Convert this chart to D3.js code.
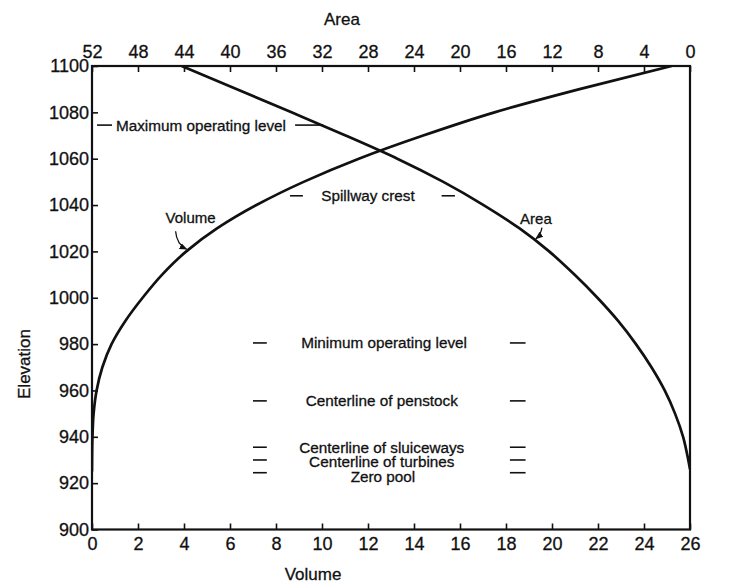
<!DOCTYPE html>
<html><head><meta charset="utf-8">
<script src="https://cdn.jsdelivr.net/npm/d3@7"></script>
<style>
body{margin:0;background:#fff}
text{font-family:"Liberation Sans",Arial,sans-serif;fill:#111;stroke:#111;stroke-width:0.3px}
</style>
</head><body>
<svg id="chart" width="735" height="584"></svg>
<script>
// ---- data ----
const elevTicks = [900,920,940,960,980,1000,1020,1040,1060,1080,1100];
const volumeTicks = [0,2,4,6,8,10,12,14,16,18,20,22,24,26];
const areaTicks = [52,48,44,40,36,32,28,24,20,16,12,8,4,0];

const volumeElev = [1100,1090,1080,1070,1060,1050,1040,1030,1020,1010,1000,990,980,970,960,950,940,930,925];
const volumeVals = [25.2,21.2,17.5,14.4,11.6,9.2,7.15,5.45,4.1,3.05,2.2,1.45,0.85,0.45,0.2,0.07,0.02,0.003,0];

const areaElev = [1100,1090,1080,1070,1060,1050,1040,1030,1020,1010,1000,990,980,970,960,950,940,930,926];
const areaVals = [44.2,39.4,34.65,29.95,25.45,21.45,17.95,14.85,12.25,10.05,8.05,6.25,4.7,3.35,2.2,1.3,0.6,0.15,0];

const levelNames = ["Maximum operating level","Spillway crest","Minimum operating level","Centerline of penstock","Centerline of sluiceways","Centerline of turbines","Zero pool"];
const levelElev = [1074.5,1044,980.5,955.5,935.5,930,924.5];

// ---- layout ----
const W = 735, H = 584;
const m = {left:92, right:45, top:66, bottom:54.5};
const svg = d3.select("#chart");
const x = d3.scaleLinear().domain([0,26]).range([m.left, W-m.right]);
const xa = d3.scaleLinear().domain([52,0]).range([m.left, W-m.right]);
const y = d3.scaleLinear().domain([900,1100]).range([H-m.bottom, m.top]);

// label layout (in volume units): text x, left dash, right dash, text anchor, y offset
const lvLayout = [
  {tx:1.04, anchor:"start", d1:[0.22,0.87], d2:[8.83,10.05], dy:0},
  {tx:12.0, anchor:"middle", d1:[8.61,9.17], d2:[15.2,15.78], dy:0},
  {tx:12.7, anchor:"middle", d1:[7.0,7.6], d2:[18.17,18.85], dy:0},
  {tx:12.6, anchor:"middle", d1:[7.0,7.6], d2:[18.17,18.85], dy:0},
  {tx:12.6, anchor:"middle", d1:[7.0,7.6], d2:[18.17,18.85], dy:0},
  {tx:12.6, anchor:"middle", d1:[7.0,7.6], d2:[18.17,18.85], dy:1.5},
  {tx:12.65, anchor:"middle", d1:[7.0,7.6], d2:[18.17,18.85], dy:3.5}
];

// ---- axes ----
function styleAxis(g){
  g.select(".domain").remove();
  g.selectAll(".tick line").attr("stroke","#111").attr("stroke-width",1.6);
  g.selectAll(".tick text").style("font-size","18px").attr("fill","#111");
}
svg.append("g").attr("transform",`translate(0,${H-m.bottom})`)
  .call(d3.axisBottom(x).tickValues(volumeTicks).tickSizeInner(-6).tickSizeOuter(0).tickPadding(8).tickFormat(d3.format("d")))
  .call(styleAxis);
svg.append("g").attr("transform",`translate(0,${m.top})`)
  .call(d3.axisTop(xa).tickValues(areaTicks).tickSizeInner(-6).tickSizeOuter(0).tickPadding(8).tickFormat(d3.format("d")))
  .call(styleAxis);
svg.append("g").attr("transform",`translate(${m.left},0)`)
  .call(d3.axisLeft(y).tickValues(elevTicks).tickSizeInner(-6).tickSizeOuter(0).tickPadding(3).tickFormat(d3.format("d")))
  .call(styleAxis);

// frame
svg.append("rect").attr("x",m.left).attr("y",m.top)
  .attr("width",W-m.left-m.right).attr("height",H-m.top-m.bottom)
  .attr("fill","none").attr("stroke","#111").attr("stroke-width",2.2);

// titles
svg.append("text").attr("x",342).attr("y",25).attr("text-anchor","middle").style("font-size","17px").text("Area");
svg.append("text").attr("x",313).attr("y",580).attr("text-anchor","middle").style("font-size","17px").text("Volume");
svg.append("text").attr("transform","translate(30,364) rotate(-90)").attr("text-anchor","middle").style("font-size","17px").text("Elevation");

// ---- curves ----
svg.append("clipPath").attr("id","clip").append("rect")
  .attr("x",m.left).attr("y",m.top).attr("width",W-m.left-m.right).attr("height",H-m.top-m.bottom);

const volData = volumeElev.map((e,i)=>({e, v:volumeVals[i]}));
const areaData = areaElev.map((e,i)=>({e, a:areaVals[i]}));

svg.append("path").datum(volData).attr("clip-path","url(#clip)")
  .attr("fill","none").attr("stroke","#111").attr("stroke-width",2.7)
  .attr("d", d3.line().x(d=>x(d.v)).y(d=>y(d.e)).curve(d3.curveMonotoneY));
svg.append("path").datum(areaData).attr("clip-path","url(#clip)")
  .attr("fill","none").attr("stroke","#111").attr("stroke-width",2.7)
  .attr("d", d3.line().x(d=>xa(d.a)).y(d=>y(d.e)).curve(d3.curveMonotoneY));

// ---- level annotations ----
levelNames.forEach((name,i)=>{
  const L = lvLayout[i], yy = y(levelElev[i]);
  [L.d1, L.d2].forEach(d=>{
    svg.append("line").attr("x1",x(d[0])).attr("x2",x(d[1])).attr("y1",yy).attr("y2",yy)
      .attr("stroke","#111").attr("stroke-width",1.6);
  });
  svg.append("text").attr("x",x(L.tx)).attr("y",yy+L.dy+5.5)
    .attr("text-anchor",L.anchor).style("font-size","15.3px").text(name);
});

// ---- curve labels with hook arrows ----
const defs = svg.append("defs");
defs.append("marker").attr("id","ah").attr("viewBox","0 0 10 10").attr("refX",9).attr("refY",5)
  .attr("markerWidth",6).attr("markerHeight",6).attr("orient","auto")
  .append("path").attr("d","M0,1 L10,5 L0,9 Z").attr("fill","#111");

const vLab = {e:1020.5, v:4.2};
const vx = x(vLab.v), vy = y(vLab.e);
svg.append("text").attr("x",vx+2).attr("y",vy-27).attr("text-anchor","middle").style("font-size","15px").text("Volume");
svg.append("path").attr("d",`M${vx-13},${vy-19} Q${vx-12},${vy-6} ${vx-2},${vy-1}`)
  .attr("fill","none").attr("stroke","#111").attr("stroke-width",1.3).attr("marker-end","url(#ah)");

const aLab = {e:1025.5, a:13.4};
const ax = xa(aLab.a), ay = y(aLab.e);
svg.append("text").attr("x",ax).attr("y",ay-15).attr("text-anchor","middle").style("font-size","15px").text("Area");
svg.append("path").attr("d",`M${ax+6},${ay-11} Q${ax+5},${ay-4} ${ax},${ay}`)
  .attr("fill","none").attr("stroke","#111").attr("stroke-width",1.3).attr("marker-end","url(#ah)");
</script>
</body></html>
